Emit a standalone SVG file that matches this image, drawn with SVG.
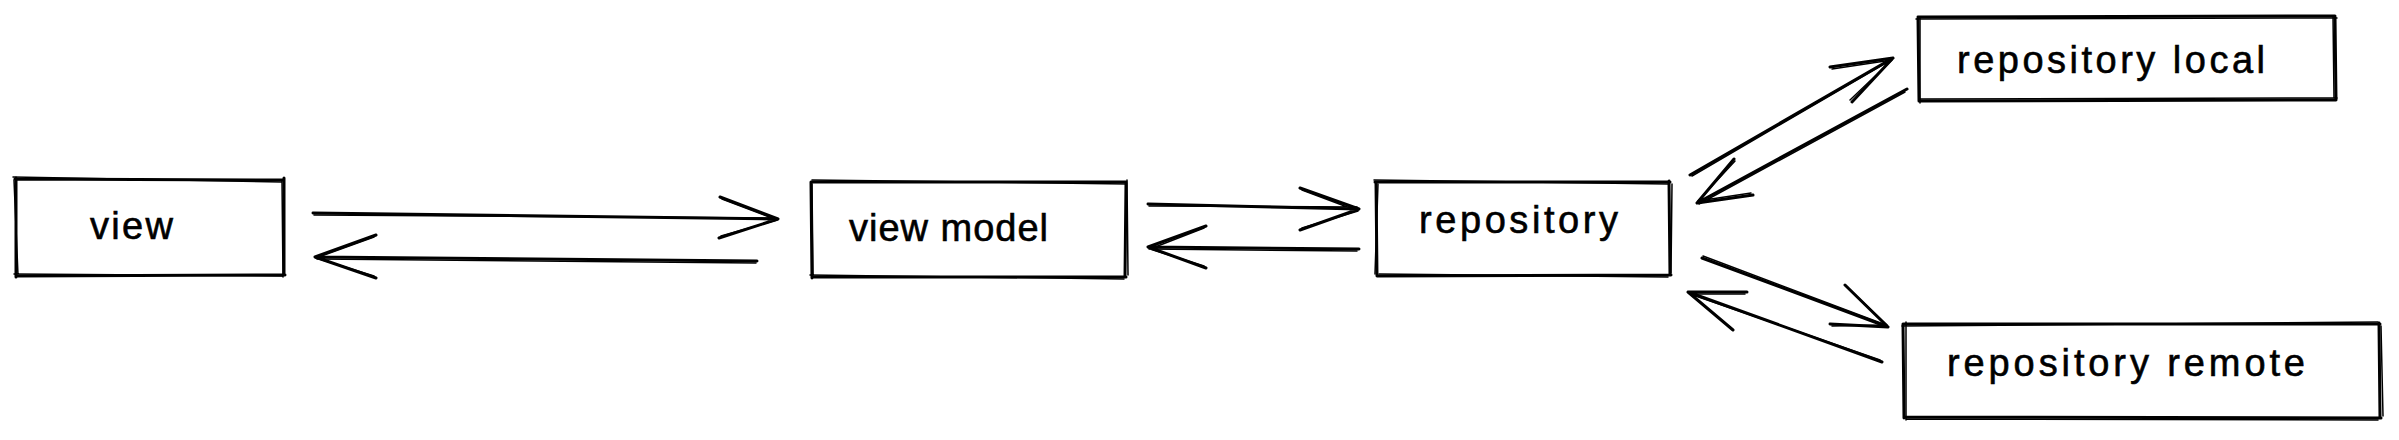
<svg xmlns="http://www.w3.org/2000/svg" width="2399" height="440" viewBox="0 0 2399 440">
<style>
.bg{fill:#ffffff}
.s1{fill:none;stroke:#000;stroke-width:3;stroke-linecap:round;stroke-linejoin:round}
.s2{fill:none;stroke:#000;stroke-width:1.5;stroke-linecap:round;stroke-linejoin:round}
.lbl{font-family:"Liberation Sans",Arial,sans-serif;font-size:38px;fill:#000;text-anchor:middle;stroke:#000;stroke-width:0.6}
</style>
<rect class="bg" x="0" y="0" width="2399" height="440"/>
<g id="node-view">
<path class="s1" d="M15 179 L283 180 M284 178 L284 274 M285 275 L17 276 M16 277 L16 178"/>
<path class="s2" d="M13 177 L281 182 M282 181 L283 277 M283 276 L14 274 M18 275 L14 180"/>
<text class="lbl" x="131.5" y="239" textLength="83" lengthAdjust="spacing">view</text>
</g>
<g id="node-viewmodel">
<path class="s1" d="M811 182 L1126 182 M1126 183 L1125 277 M1126 277 L812 277 M812 278 L811 182"/>
<path class="s2" d="M812 180 L1127 184 M1127 180 L1128 275 M1124 279 L810 275 M813 276 L812 184"/>
<text class="lbl" x="948.5" y="241" textLength="199" lengthAdjust="spacing">view model</text>
</g>
<g id="node-repository">
<path class="s1" d="M1375 182 L1670 182 M1669 181 L1670 275 M1671 275 L1377 276 M1377 276 L1376 182"/>
<path class="s2" d="M1374 180 L1668 184 M1672 184 L1671 273 M1668 277 L1379 274 M1375 274 L1378 184"/>
<text class="lbl" x="1518.5" y="233" textLength="199" lengthAdjust="spacing">repository</text>
</g>
<g id="node-repository-local">
<path class="s1" d="M1918 17 L2335 16 M2335 17 L2336 100 M2335 100 L1919 101 M1919 101 L1918 18"/>
<path class="s2" d="M1916 19 L2337 18 M2333 16 L2334 98 M2337 98 L1921 99 M1920 103 L1920 17"/>
<text class="lbl" x="2111" y="73" textLength="308" lengthAdjust="spacing">repository local</text>
</g>
<g id="node-repository-remote">
<path class="s1" d="M1904 324 L2380 324 M2379 323 L2380 418 M2381 418 L1905 417 M1904 418 L1903 324"/>
<path class="s2" d="M1902 326 L2378 322 M2381 326 L2383 416 M2378 420 L1906 419 M1906 420 L1906 322"/>
<text class="lbl" x="2126" y="376" textLength="358" lengthAdjust="spacing">repository remote</text>
</g>
<g id="connectors">
<path class="s1" d="M313 213 L778 219 M720 197 L778 219 L719 238"/>
<path class="s2" d="M314 215 L776 218 M722 199 L777 220 L721 236"/>
<path class="s1" d="M757 261 L315 257 M376 235 L315 257 L376 278"/>
<path class="s2" d="M756 263 L317 259 M374 237 L316 258 L374 276"/>
<path class="s1" d="M1148 204 L1359 209 M1300 188 L1359 209 L1300 230"/>
<path class="s2" d="M1149 206 L1357 207 M1302 190 L1358 211 L1302 228"/>
<path class="s1" d="M1359 249 L1148 247 M1206 226 L1148 247 L1206 268"/>
<path class="s2" d="M1357 251 L1149 249 M1204 228 L1150 249 L1204 266"/>
<path class="s1" d="M1690 175 L1893 58 M1830 67 L1893 58 L1852 102"/>
<path class="s2" d="M1692 176 L1891 60 M1832 69 L1892 60 L1850 100"/>
<path class="s1" d="M1907 89 L1697 203 M1734 159 L1697 203 L1753 195"/>
<path class="s2" d="M1905 92 L1699 204 M1735 161 L1698 201 L1751 193"/>
<path class="s1" d="M1702 258 L1888 327 M1845 285 L1888 327 L1830 324"/>
<path class="s2" d="M1703 256 L1886 325 M1847 287 L1887 325 L1832 326"/>
<path class="s1" d="M1882 362 L1688 292 M1747 292 L1688 292 L1733 330"/>
<path class="s2" d="M1880 360 L1690 294 M1745 294 L1690 294 L1731 328"/>
</g>
</svg>
